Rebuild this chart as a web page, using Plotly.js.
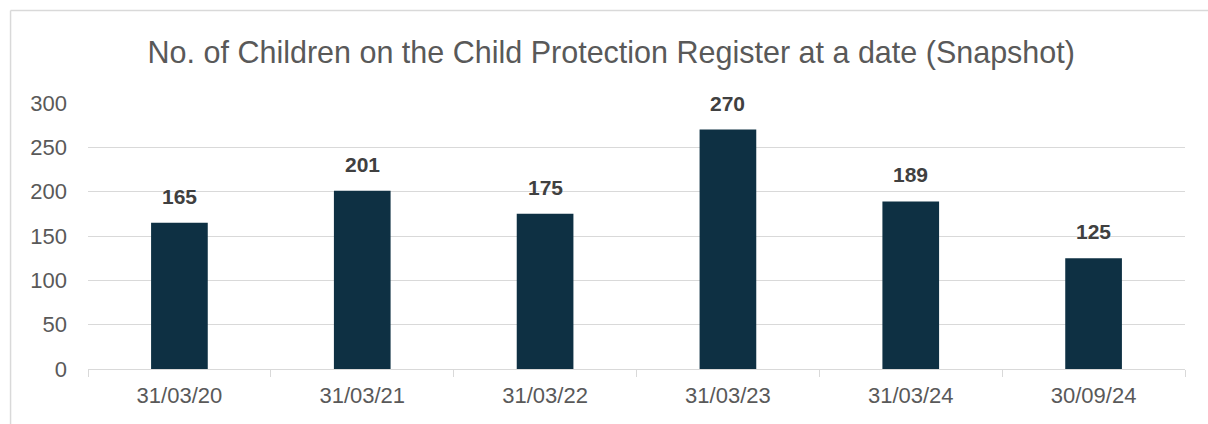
<!DOCTYPE html>
<html>
<head>
<meta charset="utf-8">
<script src="https://cdn.plot.ly/plotly-3.0.1.min.js"></script>
<style>
  html, body { margin: 0; padding: 0; background: #ffffff; }
  #chart { width: 1208px; height: 424px; }
</style>
</head>
<body>
<div id="chart"></div>
<script>
const categories = ["31/03/20", "31/03/21", "31/03/22", "31/03/23", "31/03/24", "30/09/24"];
const children = [165, 201, 175, 270, 189, 125];
const yTicks = [0, 50, 100, 150, 200, 250, 300];
const chartTitle = "No. of Children on the Child Protection Register at a date (Snapshot)";

const barColor = "#0E3043";
const gridColor = "#D9D9D9";
const textColor = "#595959";

const trace = {
  type: "bar",
  x: categories,
  y: children,
  marker: { color: barColor },
  hoverinfo: "x+y"
};

const annotations = categories.map((c, i) => ({
  x: c, y: children[i], xref: "x", yref: "y",
  text: String(children[i]),
  showarrow: false, yanchor: "bottom", yshift: 13,
  font: { family: "Liberation Sans, Arial, sans-serif", size: 21, color: "#404040", weight: "bold" }
}));

const layout = {
  width: 1208, height: 424,
  margin: { l: 88, r: 23, t: 103, b: 55 },
  paper_bgcolor: "#ffffff",
  plot_bgcolor: "#ffffff",
  bargap: 0.69,
  showlegend: false,
  font: { family: "Liberation Sans, Arial, sans-serif", size: 22, color: textColor },
  title: {
    text: chartTitle,
    xref: "container", x: 0.506, xanchor: "center",
    yref: "container", y: 0.877, yanchor: "middle",
    font: { family: "Liberation Sans, Arial, sans-serif", size: 30.5, color: textColor }
  },
  xaxis: {
    type: "category",
    showline: true, linecolor: gridColor, linewidth: 1,
    ticks: "outside", tickson: "boundaries", ticklen: 7, tickcolor: gridColor,
    ticklabelstandoff: 7,
    showgrid: false, zeroline: false,
    tickfont: { size: 22, color: textColor }
  },
  yaxis: {
    range: [0, 300],
    tickvals: yTicks,
    showgrid: true, gridcolor: gridColor, gridwidth: 1,
    zeroline: false, showline: false,
    ticks: "", ticklabelstandoff: 20,
    tickfont: { size: 22, color: textColor }
  },
  annotations: annotations,
  shapes: [
    { type: "line", xref: "paper", yref: "paper", x0: -0.0706, x1: 1.03, y0: 1.3477, y1: 1.3477,
      line: { color: gridColor, width: 1.5 } },
    { type: "line", xref: "paper", yref: "paper", x0: -0.0706, x1: -0.0706, y0: 1.3477, y1: -0.3,
      line: { color: gridColor, width: 1.5 } }
  ]
};

Plotly.newPlot("chart", [trace], layout, { displayModeBar: false, staticPlot: true });
</script>
</body>
</html>
